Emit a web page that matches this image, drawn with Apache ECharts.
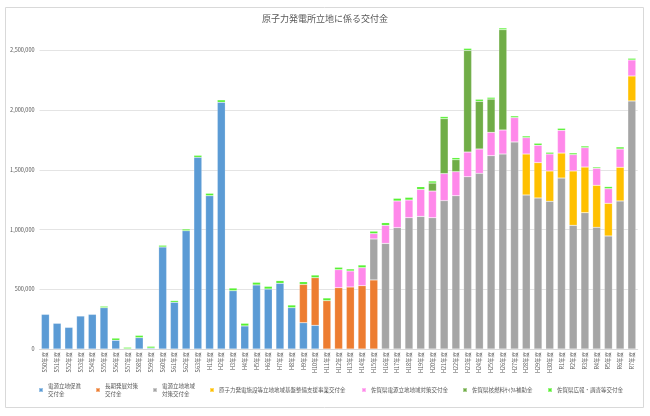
<!DOCTYPE html>
<html lang="ja">
<head>
<meta charset="UTF-8">
<title>原子力発電所立地に係る交付金</title>
<script src="https://cdn.jsdelivr.net/npm/echarts@6/dist/echarts.min.js"></script>
<style>html,body{margin:0;padding:0;background:#fff;}</style>
</head>
<body>
<div id="main" style="width:650px;height:416px;"></div>
<script>
// 年度
var years = [
    'S50年度','S51年度','S52年度','S53年度','S54年度','S55年度','S56年度','S57年度','S58年度','S59年度',
    'S60年度','S61年度','S62年度','S63年度','H1年度','H2年度','H3年度','H4年度','H5年度','H6年度',
    'H7年度','H8年度','H9年度','H10年度','H11年度','H12年度','H13年度','H14年度','H15年度','H16年度',
    'H17年度','H18年度','H19年度','H20年度','H21年度','H22年度','H23年度','H24年度','H25年度','H26年度',
    'H27年度','H28年度','H29年度','H30年度','R1年度','R2年度','R3年度','R4年度','R5年度','R6年度',
    'R7年度'
];

// 電源立地促進対策交付金
var sokushin = [
    290000,215000,181000,276000,290000,346000,73000,2000,95000,8000,
    854000,391000,990000,1604000,1283000,2065000,488000,193000,536000,502000,
    550000,346000,220000,198000,0,0,0,0,0,0,
    0,0,0,0,0,0,0,0,0,0,
    0,0,0,0,0,0,0,0,0,0,
    0
];
// 長期発展対策交付金
var chouki = [
    0,0,0,0,0,0,0,0,0,0,
    0,0,0,0,0,0,0,0,0,0,
    0,0,321000,399000,405000,513000,519000,530000,578000,0,
    0,0,0,0,0,0,0,0,0,0,
    0,0,0,0,0,0,0,0,0,0,
    0
];
// 電源立地地域対策交付金
var chiiki = [
    0,0,0,0,0,0,0,0,0,0,
    0,0,0,0,0,0,0,0,0,0,
    0,0,0,0,0,0,0,0,343000,884000,
    1016000,1099000,1110000,1099000,1242000,1283000,1442000,1470000,1618000,1632000,
    1733000,1289000,1264000,1236000,1431000,1035000,1141000,1018000,946000,1239000,
    2076000
];
// 原子力発電施設等立地地域基盤整備支援事業交付金
var kiban = [
    0,0,0,0,0,0,0,0,0,0,
    0,0,0,0,0,0,0,0,0,0,
    0,0,0,0,0,0,0,0,0,0,
    0,0,0,0,0,0,0,0,0,0,
    0,343000,296000,254000,209000,455000,382000,352000,273000,282000,
    209000
];
// 佐賀県電源立地地域対策交付金
var sagaChiiki = [
    0,0,0,0,0,0,0,0,0,0,
    0,0,0,0,0,0,0,0,0,0,
    0,0,0,0,0,151000,134000,151000,45000,151000,
    223000,148000,226000,223000,226000,201000,206000,204000,195000,201000,
    204000,137000,145000,142000,190000,137000,162000,142000,123000,153000,
    134000
];
// 佐賀県核燃料ｻｲｸﾙ補助金
var sagaCycle = [
    0,0,0,0,0,0,0,0,0,0,
    0,0,0,0,0,0,0,0,0,0,
    0,0,0,0,0,0,0,0,0,0,
    0,0,0,67000,460000,100000,851000,399000,279000,840000,
    0,0,0,0,0,0,0,0,0,0,
    0
];
// 佐賀県広報・調査等交付金
var sagaKouhou = [
    0,0,0,0,0,12000,18000,12000,19000,14000,
    14000,14000,14000,17000,20000,20000,22000,22000,22000,22000,
    22000,22000,22000,22000,22000,20000,17000,22000,20000,22000,
    22000,22000,22000,17000,17000,17000,17000,17000,14000,14000,
    14000,14000,17000,14000,17000,14000,14000,11000,17000,17000,
    14000
];

var seriesNames = [
    '電源立地促進対策交付金',
    '長期発展対策交付金',
    '電源立地地域対策交付金',
    '原子力発電施設等立地地域基盤整備支援事業交付金',
    '佐賀県電源立地地域対策交付金',
    '佐賀県核燃料ｻｲｸﾙ補助金',
    '佐賀県広報・調査等交付金'
];
var legendText = [
    '電源立地促進\n交付金',
    '長期発展対策\n交付金',
    '電源立地地域\n対策交付金',
    '原子力発電施設等立地地域基盤整備支援事業交付金',
    '佐賀県電源立地地域対策交付金',
    '佐賀県核燃料ｻｲｸﾙ補助金',
    '佐賀県広報・調査等交付金'
];
var seriesData = [sokushin, chouki, chiiki, kiban, sagaChiiki, sagaCycle, sagaKouhou];
var colors = ['#5B9BD5', '#ED7D31', '#A5A5A5', '#FFC000', '#FF88EA', '#70AD47', '#55F030'];

var FONT = '"Noto Sans CJK JP", "Noto Sans", sans-serif';
var myChart = echarts.init(document.getElementById('main'));

// 凡例は項目ごとに配置
var legendLeft = [38, 95, 152, 209, 361, 462, 547];
var legends = seriesNames.map(function (name, i) {
    var twoLine = legendText[i].indexOf('\n') >= 0;
    return {
        left: legendLeft[i],
        top: twoLine ? 378 : 386,
        padding: 0,
        itemWidth: 4,
        itemHeight: 4,
        icon: 'rect',
        selectedMode: false,
        data: [name],
        formatter: function () { return legendText[i]; },
        textStyle: {
            fontSize: 5.5,
            color: '#595959',
            fontFamily: FONT,
            lineHeight: 8,
            padding: twoLine ? [8, 0, 0, 0] : 0
        }
    };
});

var series = seriesData.map(function (arr, i) {
    return {
        name: seriesNames[i],
        type: 'bar',
        stack: 'total',
        barWidth: 8,
        clip: false,
        itemStyle: {
            color: colors[i],
            borderColor: 'rgba(255,255,255,0.4)',
            borderWidth: 0.5
        },
        data: arr.map(function (v) { return v || null; })
    };
});

var option = {
    animation: false,
    textStyle: { fontFamily: FONT },
    title: {
        text: '原子力発電所立地に係る交付金',
        left: 'center',
        top: 14,
        padding: 0,
        textStyle: { fontSize: 9, fontWeight: 'normal', color: '#595959', fontFamily: FONT }
    },
    legend: legends,
    grid: { left: 39.5, right: 12.3, top: 50.3, bottom: 67 },
    xAxis: {
        type: 'category',
        data: years,
        axisTick: { show: false },
        axisLine: { lineStyle: { color: '#D9D9D9' } },
        axisLabel: { rotate: 90, interval: 0, fontSize: 5.5, color: '#595959', margin: 3, fontFamily: FONT }
    },
    yAxis: {
        type: 'value',
        min: 0,
        max: 2500000,
        interval: 500000,
        axisLine: { show: false },
        axisTick: { show: false },
        splitLine: { lineStyle: { color: '#E4E4E4' } },
        axisLabel: {
            fontSize: 5.5, color: '#595959', margin: 5, fontFamily: FONT,
            formatter: function (v) { return v.toLocaleString('en-US'); }
        }
    },
    graphic: [{
        type: 'rect',
        silent: true,
        z: -10,
        shape: { x: 5.5, y: 7.5, width: 638, height: 400 },
        style: { fill: 'none', stroke: '#D9D9D9', lineWidth: 1 }
    }],
    series: series
};

myChart.setOption(option);
</script>
</body>
</html>
